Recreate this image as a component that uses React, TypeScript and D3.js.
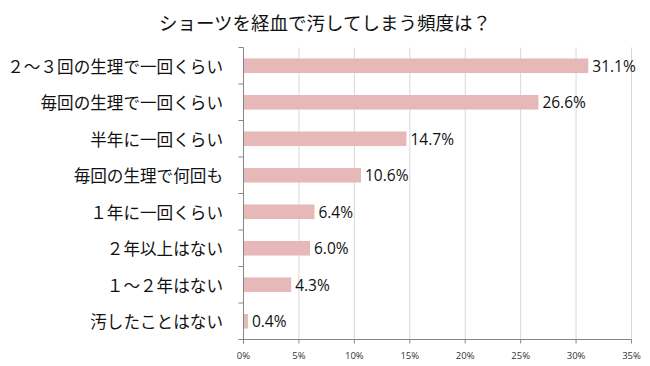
import React from "react";
import * as d3 from "d3";

const title = "ショーツを経血で汚してしまう頻度は？";

const categories = [
  "２～３回の生理で一回くらい",
  "毎回の生理で一回くらい",
  "半年に一回くらい",
  "毎回の生理で何回も",
  "１年に一回くらい",
  "２年以上はない",
  "１～２年はない",
  "汚したことはない",
];

const values = [31.1, 26.6, 14.7, 10.6, 6.4, 6.0, 4.3, 0.4];

const xTicks = [0, 5, 10, 15, 20, 25, 30, 35];

const width = 650;
const height = 366;
const marginTop = 47.5;
const marginRight = 18.5;
const marginBottom = 26.5;
const marginLeft = 243.5;

const jpFont = "'Noto Sans CJK JP', 'Noto Sans', sans-serif";
const numFont = "'Open Sans', 'DejaVu Sans', sans-serif";

const App = () => {
  const x = d3
    .scaleLinear()
    .domain([0, 35])
    .range([marginLeft, width - marginRight]);

  const y = d3
    .scaleBand()
    .domain(categories)
    .range([marginTop, height - marginBottom])
    .paddingInner(0.6)
    .paddingOuter(0.3);

  const step = y.step();
  const bandEdges = d3.range(categories.length + 1).map((i) => marginTop + i * step);
  const yBottom = height - marginBottom;

  return (
    <svg
      width={width}
      height={height}
      viewBox={`0 0 ${width} ${height}`}
      style={{ position: "absolute", left: 0, top: 0, background: "#fff" }}
    >
      <text
        x={325}
        y={22}
        textAnchor="middle"
        dominantBaseline="central"
        fontFamily={jpFont}
        fontSize={18.5}
        fill="#111"
      >
        {title}
      </text>

      {/* gridlines */}
      <g stroke="#d9d9d9" strokeWidth={1}>
        {xTicks.slice(1).map((t) => (
          <line key={t} x1={x(t)} x2={x(t)} y1={marginTop} y2={yBottom} />
        ))}
      </g>

      {/* bars */}
      <g fill="#e6b9b8">
        {categories.map((c, i) => (
          <rect key={c} x={x(0)} y={y(c)} width={x(values[i]) - x(0)} height={y.bandwidth()} />
        ))}
      </g>

      {/* axes */}
      <g stroke="#868686" strokeWidth={1}>
        <line x1={marginLeft} x2={marginLeft} y1={marginTop} y2={yBottom + 4} />
        {bandEdges.map((e, i) => (
          <line key={i} x1={marginLeft - 5} x2={marginLeft} y1={e} y2={e} />
        ))}
        <line x1={marginLeft} x2={x(35)} y1={yBottom} y2={yBottom} />
        {xTicks.map((t) => (
          <line key={t} x1={x(t)} x2={x(t)} y1={yBottom} y2={yBottom + 4} />
        ))}
      </g>

      {/* category labels */}
      <g fontFamily={jpFont} fontSize={16.6} fill="#111" textAnchor="end">
        {categories.map((c) => (
          <text key={c} x={223} y={y(c)! + y.bandwidth() / 2} dominantBaseline="central">
            {c}
          </text>
        ))}
      </g>

      {/* value labels */}
      <g fontFamily={numFont} fontSize={15.5} fill="#111">
        {categories.map((c, i) => (
          <text
            key={c}
            x={x(values[i]) + 4}
            y={y(c)! + y.bandwidth() / 2}
            dominantBaseline="central"
          >
            {values[i].toFixed(1)}%
          </text>
        ))}
      </g>

      {/* x tick labels */}
      <g fontFamily={numFont} fontSize={9.5} fill="#333" textAnchor="middle">
        {xTicks.map((t) => (
          <text key={t} x={x(t)} y={355} dominantBaseline="central">
            {t}%
          </text>
        ))}
      </g>
    </svg>
  );
};

export default App;
